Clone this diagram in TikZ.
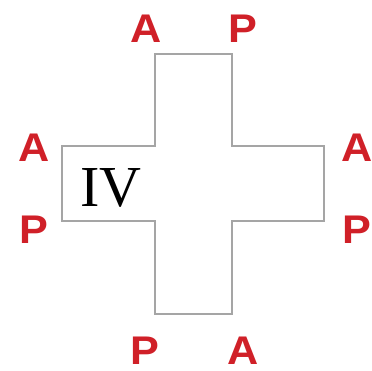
\documentclass[tikz,border=0pt]{standalone}
\usepackage{fontspec}
\setmainfont{Liberation Sans}
\newfontfamily\ivfont{Liberation Serif}
\definecolor{lblred}{RGB}{208,32,40}
\definecolor{edgegray}{RGB}{165,165,165}
\begin{document}
\begin{tikzpicture}[x=1pt,y=-1pt,
  lbl/.style={text=lblred,font=\fontsize{40}{40}\selectfont\bfseries,inner sep=0pt,anchor=center,xscale=1.08},
  outline/.style={draw=edgegray,line width=1.5pt,line join=miter}]
\useasboundingbox (0,0) rectangle (372,371);
\draw[outline] (155,54) -- (232,54) -- (232,146) -- (324,146) -- (324,221) -- (232,221)
  -- (232,314) -- (155,314) -- (155,221) -- (62,221) -- (62,146) -- (155,146) -- cycle;
\node[inner sep=0pt] (iv) at (111,188) {\ivfont\fontsize{58}{58}\selectfont IV};
\node[lbl] (ta) at (146,29) {A};
\node[lbl] (tp) at (243,29) {P};
\node[lbl] (la) at (34,148) {A};
\node[lbl] (lp) at (34,230) {P};
\node[lbl] (ra) at (357,148) {A};
\node[lbl] (rp) at (357,230) {P};
\node[lbl] (bp) at (145,351) {P};
\node[lbl] (ba) at (243,351) {A};
\end{tikzpicture}
\end{document}
